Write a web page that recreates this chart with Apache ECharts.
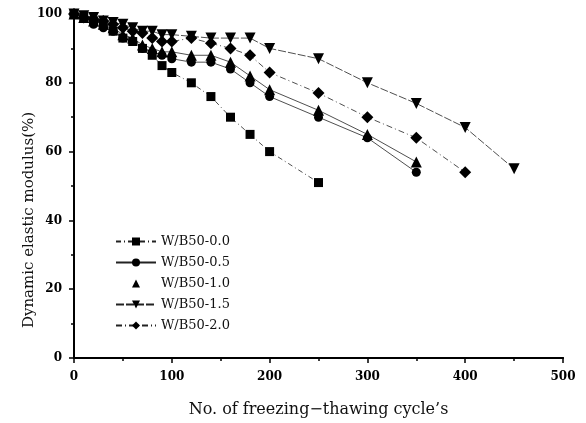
<!DOCTYPE html>
<html><head><meta charset="utf-8">
<script src="https://cdn.jsdelivr.net/npm/echarts@6/dist/echarts.min.js"></script>
<style>html,body{margin:0;padding:0;background:#fff}#c{width:586px;height:423px}</style>
</head><body><div id="c"></div>
<script>
var seriesNames = ["W/B50-0.0","W/B50-0.5","W/B50-1.0","W/B50-1.5","W/B50-2.0"];
var xTicks = [0,100,200,300,400,500];
var yTicks = [0,20,40,60,80,100];
var cyc0_0 = [0,10,20,30,40,50,60,70,80,90,100,120,140,160,180,200,250];
var val0_0 = [100,99,98,97,95,93,92,90,88,85,83,80,76,70,65,60,51];
var cyc0_5 = [0,10,20,30,40,50,60,70,80,90,100,120,140,160,180,200,250,300,350];
var val0_5 = [100,99,97,96,95,93,92,90,89,88,87,86,86,84,80,76,70,64,54];
var cyc1_0 = [0,10,20,30,40,50,60,70,80,90,100,120,140,160,180,200,250,300,350];
var val1_0 = [100,99,98,97,96,94,93,91,90,89,89,88,88,86,82,78,72,65,57];
var cyc1_5 = [0,10,20,30,40,50,60,70,80,90,100,120,140,160,180,200,250,300,350,400,450];
var val1_5 = [100,99.5,99,98,97.5,97,96,95,95,94,94,93.5,93,93,93,90,87,80,74,67,55];
var cyc2_0 = [0,10,20,30,40,50,60,70,80,90,100,120,140,160,180,200,250,300,350,400];
var val2_0 = [100,99,98.5,98,97,96,95,94.5,93,92,92,93,91.5,90,88,83,77,70,64,54];

function pairs(xs, ys){ return xs.map(function(x,i){ return [x, ys[i]]; }); }

var serif = '"DejaVu Serif", "Liberation Serif", serif';
var dataSets = [pairs(cyc0_0,val0_0), pairs(cyc0_5,val0_5), pairs(cyc1_0,val1_0), pairs(cyc1_5,val1_5), pairs(cyc2_0,val2_0)];
var symbols = ['rect','circle','triangle','triangle','diamond'];
var sizes = [9,9,11,11,12];
var rotates = [0,0,0,180,0];
var dashes = [[5,3,1,3],'solid','solid',[8,2],[6,3,1,3]];

var series = seriesNames.map(function(n,i){
  return {
    name: n, type: 'line', data: dataSets[i],
    symbol: symbols[i], symbolSize: sizes[i], symbolRotate: rotates[i],
    clip: false,
    itemStyle: {color: '#000'},
    lineStyle: {color: '#222', width: 0.8, type: dashes[i]},
    z: 3
  };
});

var chart = echarts.init(document.getElementById('c'), null, {renderer: 'canvas'});
chart.setOption({
  animation: false,
  backgroundColor: '#fff',
  grid: {left: 74, right: 23, top: 14, bottom: 65},
  legend: {
    orient: 'vertical', left: 110, top: 230,
    itemWidth: 40, itemHeight: 10, itemGap: 8,
    textStyle: {fontFamily: serif, fontSize: 13, color: '#111'},
    data: seriesNames.map(function(n,i){
      return i === 2 ? {name: n, lineStyle: {opacity: 0}} : {name: n};
    })
  },
  xAxis: [{
    type: 'value', min: xTicks[0], max: xTicks[xTicks.length-1], interval: 100,
    name: 'No. of freezing\u2212thawing cycle\u2019s', nameLocation: 'middle', nameGap: 44,
    nameMoveOverlap: false,
    nameTextStyle: {fontFamily: serif, fontSize: 16, color: '#111'},
    axisLine: {lineStyle: {color: '#000', width: 2}},
    axisTick: {length: 5, lineStyle: {color: '#000', width: 1.5}},
    minorTick: {show: true, splitNumber: 2, length: 3, lineStyle: {color: '#000', width: 1.5}},
    splitLine: {show: false},
    axisLabel: {fontFamily: serif, fontWeight: 'bold', fontSize: 12, color: '#000', margin: 13}
  },{
    type: 'value', position: 'top', min: 0, max: 500,
    axisLine: {show: true, lineStyle: {color: '#000', width: 2}},
    axisTick: {show: false}, axisLabel: {show: false}, splitLine: {show: false}
  }],
  yAxis: [{
    type: 'value', min: yTicks[0], max: yTicks[yTicks.length-1], interval: 20,
    name: 'Dynamic elastic modulus(%)', nameLocation: 'middle', nameGap: 37,
    nameMoveOverlap: false,
    nameTextStyle: {fontFamily: serif, fontSize: 15, color: '#111', padding: [0, 68, 0, 0]},
    axisLine: {show: true, lineStyle: {color: '#000', width: 2}},
    axisTick: {length: 5, lineStyle: {color: '#000', width: 1.5}},
    minorTick: {show: true, splitNumber: 2, length: 3, lineStyle: {color: '#000', width: 1.5}},
    splitLine: {show: false},
    axisLabel: {fontFamily: serif, fontWeight: 'bold', fontSize: 12, color: '#000', margin: 12}
  },{
    type: 'value', position: 'right', min: 0, max: 100,
    axisLine: {show: true, lineStyle: {color: '#000', width: 2}},
    axisTick: {show: false}, axisLabel: {show: false}, splitLine: {show: false}
  }],
  series: series
});
</script>
</body></html>
